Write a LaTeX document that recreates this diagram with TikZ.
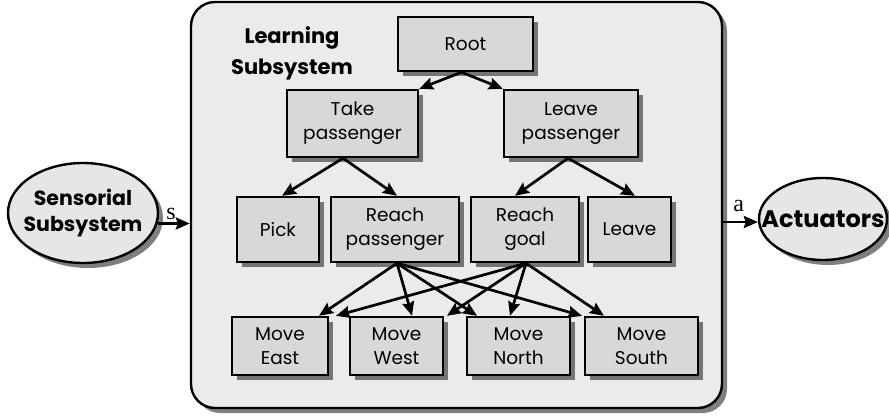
\documentclass[tikz,border=0pt]{standalone}
\usepackage{fontspec}
\newfontfamily\labelfont{Poppins}
\newfontfamily\sigfont{Liberation Serif}
\usetikzlibrary{shapes.geometric,shadows,arrows.meta,calc}

\definecolor{boxfill}{HTML}{D8D8D8}
\definecolor{panelfill}{HTML}{EBEBEB}
\definecolor{ovalfill}{HTML}{E6E6E6}

\tikzset{
  shade/.style={drop shadow={shadow xshift=5pt, shadow yshift=-5pt, fill=black, opacity=0.5}},
  taskbox/.style={draw, line width=2.4pt, fill=boxfill, shade, inner sep=0pt,
    align=center, font=\labelfont\fontsize{18.5}{24}\selectfont},
  oval/.style={ellipse, draw, line width=2.4pt, fill=ovalfill, shade, inner sep=0pt},
  ovaltext/.style={align=center, inner sep=0pt, font=\labelfont\fontsize{20.5}{26}\selectfont\bfseries},
  arr/.style={line width=2.7pt, -{Stealth[length=14pt, width=12pt, inset=2pt]}},
  sig/.style={inner sep=0pt, font=\sigfont\fontsize{24}{24}\selectfont}
}

\begin{document}
\begin{tikzpicture}[x=1pt, y=-1pt]
  \useasboundingbox (0,0) rectangle (889,417);

  % learning subsystem panel
  \node (lsys) [draw, line width=2.4pt, fill=panelfill, shade, rounded corners=24pt,
    minimum width=531pt, minimum height=406pt, inner sep=0pt] at (456.5,205) {};
  \node (title) [align=center, font=\labelfont\fontsize{21}{31}\selectfont\bfseries] at (292,53)
    {Learning\\Subsystem};

  % task hierarchy
  \node (root)   [taskbox, minimum width=135pt, minimum height=54pt] at (465.5,44) {Root};
  \node (take)   [taskbox, minimum width=131pt, minimum height=67pt] at (352.5,123.5) {Take\\passenger};
  \node (leavep) [taskbox, minimum width=134pt, minimum height=67pt] at (571,123.5) {Leave\\passenger};
  \node (pick)   [taskbox, minimum width=82pt,  minimum height=65pt] at (278,229.5) {Pick};
  \node (reachp) [taskbox, minimum width=128pt, minimum height=65pt] at (395,229.5) {Reach\\passenger};
  \node (reachg) [taskbox, minimum width=108pt, minimum height=65pt] at (525,229.5) {Reach\\goal};
  \node (leave)  [taskbox, minimum width=83pt,  minimum height=65pt] at (629.5,229.5) {Leave};
  \node (me) [taskbox, minimum width=96pt,  minimum height=58pt] at (280,346) {Move\\East};
  \node (mw) [taskbox, minimum width=93pt,  minimum height=58pt] at (396.5,346) {Move\\West};
  \node (mn) [taskbox, minimum width=103pt, minimum height=58pt] at (518.5,346) {Move\\North};
  \node (ms) [taskbox, minimum width=113pt, minimum height=58pt] at (641.5,346) {Move\\South};

  % outside the panel
  \node (sens) [oval, minimum width=150pt, minimum height=100pt] at (83,213) {};
  \node (senstext) [ovaltext] at (sens.center) {Sensorial\\Subsystem};
  \node (act)  [oval, minimum width=128pt, minimum height=82pt] at (823,219) {};
  \node (acttext) [ovaltext, font=\labelfont\fontsize{24}{26}\selectfont\bfseries] at (act.center) {Actuators};

  % hierarchy links
  \draw[arr] ([xshift=-4pt]root.south) -- (take.north east);
  \draw[arr] ([xshift=-4pt]root.south) -- (leavep.north west);
  \draw[arr] ([xshift=-9.5pt]take.south) -- ([xshift=4pt]pick.north);
  \draw[arr] ([xshift=-9.5pt]take.south) -- ([xshift=2pt]reachp.north);
  \draw[arr] ([xshift=-3pt]leavep.south) -- ([xshift=-10pt]reachg.north);
  \draw[arr] ([xshift=-3pt]leavep.south) -- ([xshift=5.5pt]leave.north);

  \draw[arr] ([xshift=2pt]reachp.south) -- ([xshift=39pt]me.north);
  \draw[arr] ([xshift=2pt]reachp.south) -- ([xshift=15.5pt]mw.north);
  \draw[arr] ([xshift=2pt]reachp.south) -- ([xshift=-41.5pt]mn.north);
  \draw[arr] ([xshift=2pt]reachp.south) -- ([xshift=-59.5pt]ms.north);
  \draw[arr] ([xshift=1pt]reachg.south) -- ([xshift=56pt]me.north);
  \draw[arr] ([xshift=1pt]reachg.south) -- ([xshift=50.5pt]mw.north);
  \draw[arr] ([xshift=1pt]reachg.south) -- ([xshift=-8.5pt]mn.north);
  \draw[arr] ([xshift=1pt]reachg.south) -- ([xshift=-37.5pt]ms.north);

  % signals
  \draw[arr] (sens.-8) -- (sens.-8 -| lsys.west)
    node[sig, pos=0.42, above=2pt] {s};
  \draw[arr] ([yshift=-3pt]act.west -| lsys.east) -- ([yshift=-3pt]act.west)
    node[sig, pos=0.45, above=9pt] {a};
\end{tikzpicture}
\end{document}
